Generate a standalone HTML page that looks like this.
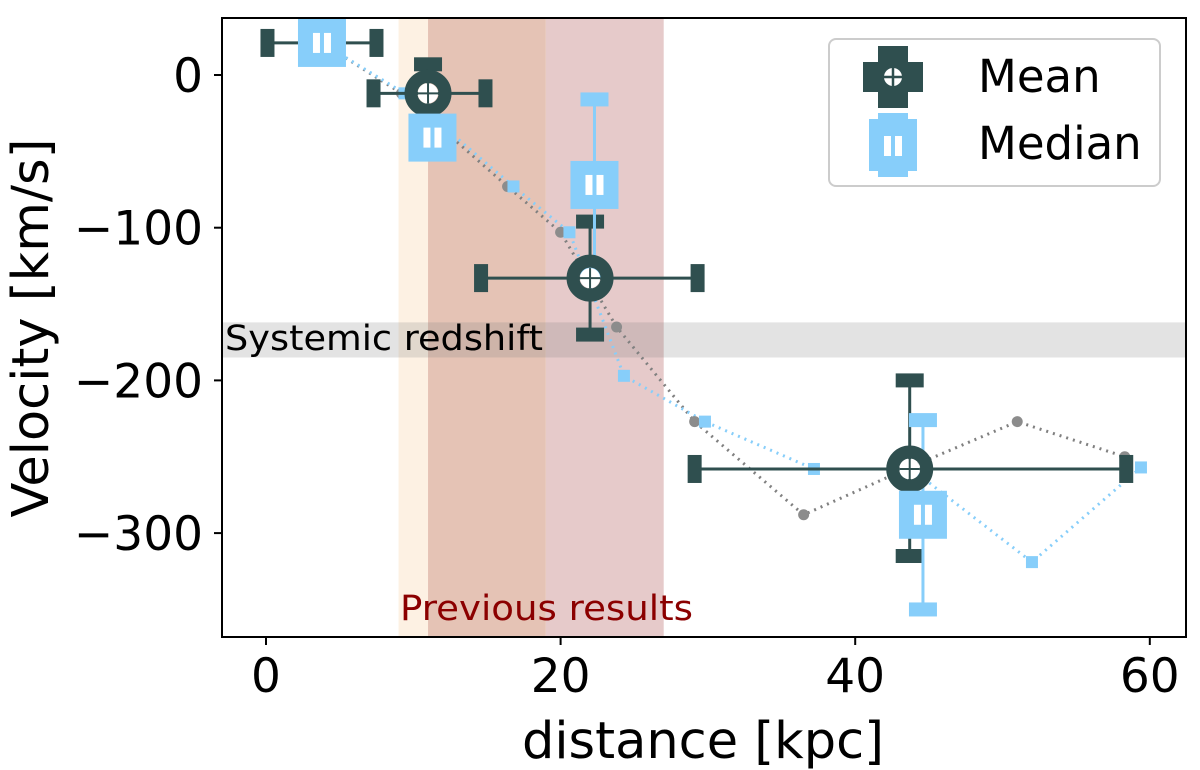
<!DOCTYPE html>
<html><head><meta charset="utf-8">
<style>
body{margin:0;background:#fff;}
svg{display:block;font-family:"DejaVu Sans","Liberation Sans",sans-serif;}
</style></head>
<body>
<svg id="chart" width="1200" height="770" viewBox="0 0 1200 770" xmlns="http://www.w3.org/2000/svg">
<g id="spans"></g>
<rect id="band" x="222" width="964" fill="rgba(128,128,128,0.22)"/>
<text x="225" y="350" font-size="35" textLength="318" lengthAdjust="spacingAndGlyphs">Systemic redshift</text>
<text x="400" y="620" font-size="35" fill="#8b0000" textLength="293" lengthAdjust="spacingAndGlyphs">Previous results</text>
<g id="lines"></g>
<g id="errs"></g>
<g id="marks"></g>
<rect x="222" y="18" width="964" height="619" fill="none" stroke="#000" stroke-width="2"/>
<g id="ticks"></g>
<text transform="translate(48,328) rotate(-90)" font-size="51" text-anchor="middle">Velocity [km/s]</text>
<text x="703" y="758" font-size="51" text-anchor="middle">distance [kpc]</text>
<g>
<rect x="829" y="39" width="331" height="147" rx="7" fill="#fff" stroke="#ccc" stroke-width="2"/>
<g>
<rect x="863" y="62" width="60" height="30" fill="#2f4f4f"/><rect x="878" y="46" width="30" height="62" fill="#2f4f4f"/>
<circle cx="893" cy="77" r="9" fill="#fff"/><line x1="884" y1="77" x2="902" y2="77" stroke="#2f4f4f" stroke-width="2.5"/><line x1="893" y1="68" x2="893" y2="86" stroke="#2f4f4f" stroke-width="2.5"/>
</g>
<g>
<rect x="869" y="119" width="48" height="52" fill="#87cefa"/><rect x="878" y="113" width="30" height="64" fill="#87cefa"/>
<rect x="884" y="136" width="7" height="20" fill="#fff"/><rect x="895" y="136" width="7" height="20" fill="#fff"/>
</g>
<text x="978" y="92" font-size="45">Mean</text>
<text x="978" y="159" font-size="45">Median</text>
</g>
</svg>
<script>
const xTicks=[0,20,40,60];
const yTicks=[0,-100,-200,-300];
const meanD=[3.8,11,22,43.7];
const meanV=[21,-12,-133,-258];
const meanXLo=[0.1,7.3,14.6,29.1];
const meanXHi=[7.5,14.9,29.3,58.4];
const meanVLo=[21,-31,-170,-315];
const meanVHi=[21,7,-96,-200];
const medD=[3.8,11.3,22.3,44.6];
const medV=[21,-41,-72,-288];
const medVLo=[21,-41,-128,-350];
const medVHi=[21,-41,-16,-226];
const grayD=[3.8,9.2,16.4,20,23.8,29.1,36.5,43.7,51,58.3];
const grayV=[21,-12,-73,-103,-165,-227,-288,-257,-227,-250];
const blueD=[3.8,9.4,16.8,20.6,24.3,29.8,37.2,43.8,52,59.4];
const blueV=[21,-12,-73,-103,-197,-227,-258,-258,-319,-257];
const spanStart=[9,11,19];
const spanEnd=[11,19,27];
const spanColor=["#fdf1e3","#e5c3b5","#e6caca"];
const bandV=[-162,-185];

const X=d=>266+d*14.73;
const Y=v=>75-v*1.527;
const NS="http://www.w3.org/2000/svg";
function mk(parent,tag,attrs){const e=document.createElementNS(NS,tag);for(const k in attrs)e.setAttribute(k,attrs[k]);document.getElementById(parent).appendChild(e);return e;}

for(let i=0;i<spanStart.length;i++){
  const r=mk('spans','rect',{x:X(spanStart[i]),y:18,width:X(spanEnd[i])-X(spanStart[i]),height:619,fill:spanColor[i]});
  
  
}
const band=document.getElementById('band');
band.setAttribute('y',Y(bandV[0]));band.setAttribute('height',Y(bandV[1])-Y(bandV[0]));

let p=grayD.map((d,i)=>X(d)+','+Y(grayV[i])).join(' ');
let gl=mk('lines','polyline',{points:p,fill:'none',stroke:'#808080','stroke-width':3,'stroke-dasharray':'2 5'});


p=blueD.map((d,i)=>X(d)+','+Y(blueV[i])).join(' ');
let bl=mk('lines','polyline',{points:p,fill:'none',stroke:'#87cefa','stroke-width':3,'stroke-dasharray':'2 5'});


grayD.forEach((d,i)=>{const c=mk('lines','circle',{cx:X(d),cy:Y(grayV[i]),r:5.5,fill:'#8c8c8c'});

});
blueD.forEach((d,i)=>{const c=mk('lines','rect',{x:X(d)-6,y:Y(blueV[i])-6,width:12,height:12,fill:'#87cefa'});

});

const DK='#2f4f4f',LB='#87cefa';
meanD.forEach((d,i)=>{
  const y=Y(meanV[i]);
  const l=mk('errs','line',{x1:X(meanXLo[i]),x2:X(meanXHi[i]),y1:y,y2:y,stroke:DK,'stroke-width':3});
  
  
  [meanXLo[i],meanXHi[i]].forEach(xv=>mk('errs','rect',{x:X(xv)-7,y:y-14,width:14,height:28,fill:DK}));
  if(meanVLo[i]!==meanVHi[i]){
    const x=X(d);
    const v=mk('errs','line',{x1:x,x2:x,y1:Y(meanVHi[i]),y2:Y(meanVLo[i]),stroke:DK,'stroke-width':3});
    
    
    [meanVLo[i],meanVHi[i]].forEach(vv=>mk('errs','rect',{x:x-14,y:Y(vv)-7,width:28,height:14,fill:DK}));
  }
});
medD.forEach((d,i)=>{
  if(medVLo[i]===medVHi[i])return;
  const x=X(d);
  const v=mk('errs','line',{x1:x,x2:x,y1:Y(medVHi[i]),y2:Y(medVLo[i]),stroke:LB,'stroke-width':3});
  
  
  [medVLo[i],medVHi[i]].forEach(vv=>mk('errs','rect',{x:x-14,y:Y(vv)-7,width:28,height:14,fill:LB}));
});
meanD.forEach((d,i)=>{
  const x=X(d),y=Y(meanV[i]);
  const c=mk('marks','circle',{cx:x,cy:y,r:17,fill:'none',stroke:DK,'stroke-width':13});
  
  
  mk('marks','circle',{cx:x,cy:y,r:10,fill:'#fff'});
  mk('marks','line',{x1:x-10,x2:x+10,y1:y,y2:y,stroke:DK,'stroke-width':2});
  mk('marks','line',{x1:x,x2:x,y1:y-10,y2:y+10,stroke:DK,'stroke-width':2});
});
medD.forEach((d,i)=>{
  const x=X(d),y=Y(medV[i]);
  const s=mk('marks','rect',{x:x-24,y:y-24,width:48,height:48,fill:LB});
  
  
  mk('marks','rect',{x:x-9,y:y-10,width:7,height:20,fill:'#fff'});
  mk('marks','rect',{x:x+2,y:y-10,width:7,height:20,fill:'#fff'});
});

xTicks.forEach(t=>{
  const x=X(t);
  mk('ticks','line',{x1:x,x2:x,y1:637,y2:645,stroke:'#000','stroke-width':2});
  const tx=mk('ticks','text',{x:x,y:692,'font-size':47,'text-anchor':'middle'});
  tx.textContent=String(t);
  
  
});
yTicks.forEach(t=>{
  const y=Y(t);
  mk('ticks','line',{x1:214,x2:222,y1:y,y2:y,stroke:'#000','stroke-width':2});
  const tx=mk('ticks','text',{x:203,y:y+17,'font-size':47,'text-anchor':'end'});
  tx.textContent=t<0?'\u2212'+Math.abs(t):String(t);
  
  
});
</script>
</body></html>
